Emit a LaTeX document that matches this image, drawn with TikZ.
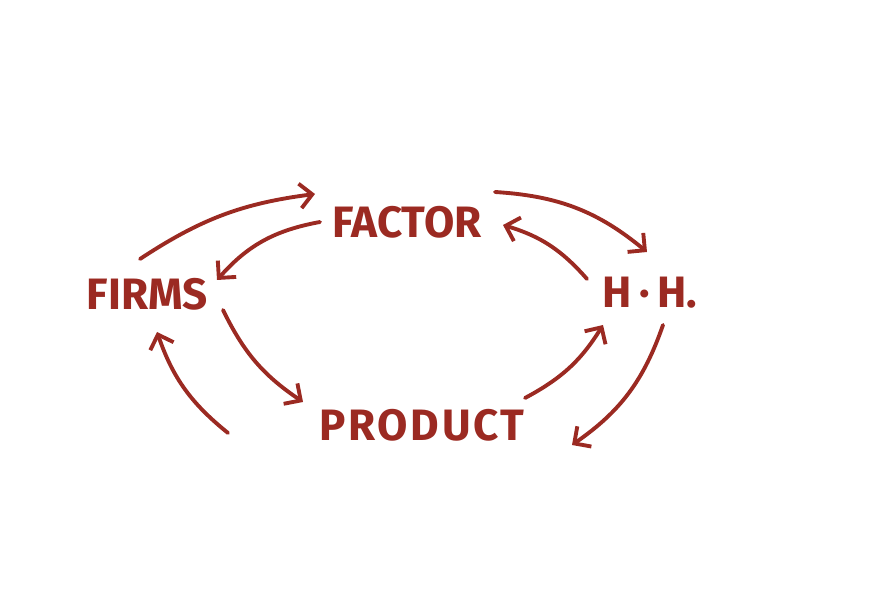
\documentclass[tikz,border=0pt]{standalone}
\usepackage{fontspec}
\setmainfont{Fira Sans}
\usetikzlibrary{arrows.meta}
\definecolor{ink}{HTML}{9B2A22}
\begin{document}
\begin{tikzpicture}[x=0.01cm,y=-0.01cm,
  lbl/.style={text=ink,font=\fontsize{12.5}{13}\selectfont\bfseries,inner sep=0pt},
  flow/.style={draw=ink,line width=1.1pt,line cap=round,-{Straight Barb[length=3.5pt,width=7pt,line width=1.1pt]}}]
\useasboundingbox (0,0) rectangle (876,607);
\node[lbl] (factor) at (407,222) {FACTOR};
\node[lbl] (firms) at (147,294) {FIRMS};
\node[lbl] (hh) at (650,293) {H\,·\,H.};
\node[lbl] (product) at (422,425) {\addfontfeatures{LetterSpace=6}PRODUCT};
\draw[flow] ([shift={(-7,-35)}]firms.center) to[bend left=13] ([shift={(-92,-28)}]factor.center);
\draw[flow] ([shift={(-87,0)}]factor.center) to[bend right=19] ([shift={(70,-14)}]firms.center);
\draw[flow] ([shift={(88,-30)}]factor.center) to[bend left=18] ([shift={(-3,-41)}]hh.center);
\draw[flow] ([shift={(-63,-14)}]hh.center) to[bend right=16] ([shift={(96,3)}]factor.center);
\draw[flow] ([shift={(76,16)}]firms.center) to[bend right=15] ([shift={(-119,-23)}]product.center);
\draw[flow] ([shift={(-194,8)}]product.center) to[bend left=16] ([shift={(10,38)}]firms.center);
\draw[flow] ([shift={(103,-27)}]product.center) to[bend right=15] ([shift={(-47,32)}]hh.center);
\draw[flow] ([shift={(13,32)}]hh.center) to[bend left=18] ([shift={(150,20)}]product.center);
\end{tikzpicture}
\end{document}
